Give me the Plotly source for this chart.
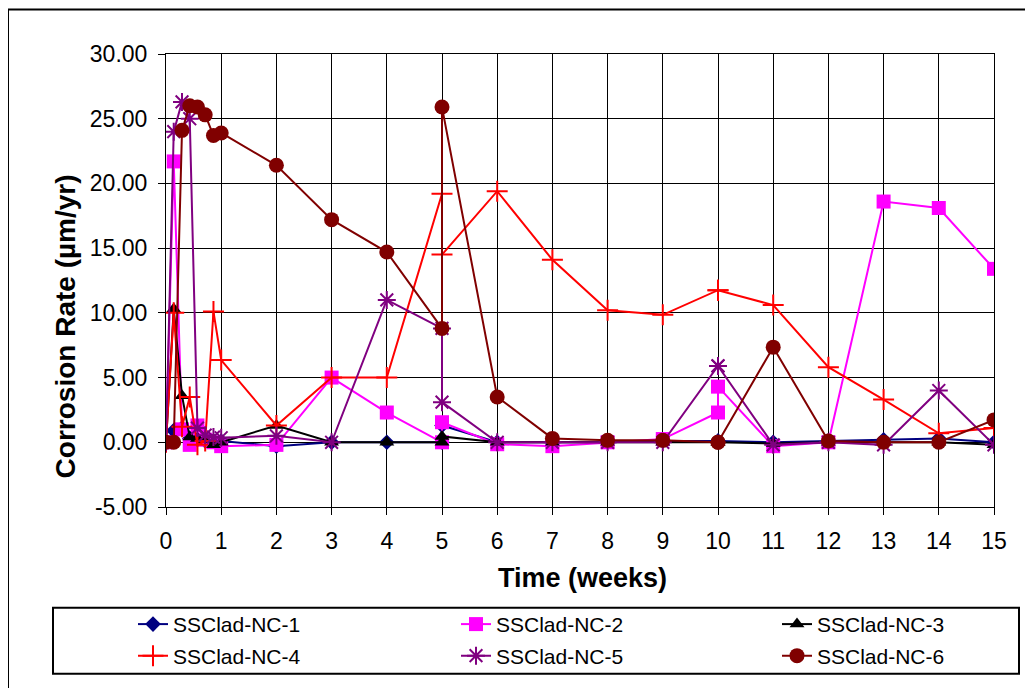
import plotly.graph_objects as go

# ---- data ----
time_weeks = [0, 0.14, 0.29, 0.43, 0.57, 0.71, 0.86, 1, 2, 3, 4, 5, 5, 6, 7, 8, 9, 10, 10, 11, 12, 13, 14, 15]

nc1 = [0, 0.9, 1.1, 0.3, 0.2, 0.1, 0.1, 0.1, -0.3, 0.0, 0.0, 0.0, 1.3, 0.0, 0.0, 0.0, 0.1, 0.1, 0.1, 0.0, 0.1, 0.2, 0.3, 0.0]
nc2 = [0, 21.7, 1.0, -0.2, 1.3, 0.2, 0.0, -0.3, -0.2, 5.0, 2.3, 0.0, 1.55, -0.15, -0.3, 0.0, 0.25, 2.3, 4.3, -0.3, 0.0, 18.6, 18.1, 13.4]
nc3 = [0, 10.3, 3.6, 0.4, 0.3, 0.2, -0.2, 0.0, 1.3, 0.0, 0.0, 0.0, 0.45, 0.0, 0.0, 0.0, 0.0, 0.0, 0.0, -0.1, 0.0, 0.0, 0.0, -0.2]
nc4 = [0, 10.0, 1.2, 3.5, -0.2, 0.1, 10.1, 6.35, 1.3, 5.0, 5.0, 19.2, 14.5, 19.4, 14.1, 10.2, 9.85, 11.75, 11.75, 10.6, 5.8, 3.3, 0.7, 1.1]
nc5 = [0, 24.0, 26.3, 25.0, 1.1, 0.55, 0.4, 0.35, 0.5, 0.0, 11.0, 8.8, 3.1, 0.0, 0.0, 0.0, 0.0, 5.9, 5.9, -0.2, 0.0, -0.2, 4.0, -0.2]
nc6 = [0, 0.0, 24.1, 26.0, 25.9, 25.3, 23.7, 23.9, 21.4, 17.2, 14.7, 8.8, 25.9, 3.5, 0.3, 0.15, 0.15, 0.0, 0.0, 7.35, 0.1, 0.0, 0.0, 1.73]

series_names = ["SSClad-NC-1", "SSClad-NC-2", "SSClad-NC-3", "SSClad-NC-4", "SSClad-NC-5", "SSClad-NC-6"]
series_values = [nc1, nc2, nc3, nc4, nc5, nc6]

y_ticks = [-5, 0, 5, 10, 15, 20, 25, 30]
y_tick_labels = ["-5.00", "0.00", "5.00", "10.00", "15.00", "20.00", "25.00", "30.00"]
x_ticks = list(range(0, 16))

# ---- styles ----
colors = ["#000080", "#FF00FF", "#000000", "#FF0000", "#800080", "#800000"]
symbols = ["diamond", "square", "triangle-up", "cross-thin-open", "asterisk-open", "circle"]
sizes = [12, 14, 13, 15, 15, 15]
FONT = "Arial, Liberation Sans, sans-serif"

# page offset of the figure div (default body margin)
OFF = 8
W, H = 1025, 680
# plot area in page pixels -> figure pixels
L, R, T, B = 166 - OFF, 994 - OFF, 54 - OFF, 513 - OFF
pw, ph = R - L, B - T


def px_x(p):
    """page x pixel -> paper coordinate"""
    return (p - OFF - L) / pw


def px_y(p):
    """page y pixel -> paper coordinate"""
    return (B - (p - OFF)) / ph


fig = go.Figure()

# legend entries: (page x of entry start, page y of row centre)
legend_pos = [(133, 632), (456, 632), (777, 632), (133, 664), (456, 664), (777, 664)]

for i, (name, vals) in enumerate(zip(series_names, series_values)):
    open_sym = symbols[i].endswith("open")
    marker = dict(symbol=symbols[i], size=sizes[i], color=colors[i])
    if open_sym:
        marker["line"] = dict(color=colors[i], width=2)
    else:
        marker["line"] = dict(width=0)
    lg = "legend" if i == 0 else f"legend{i+1}"
    fig.add_trace(go.Scatter(
        x=time_weeks, y=vals, name=name, mode="lines+markers",
        line=dict(color=colors[i], width=2),
        marker=marker, legend=lg,
    ))

layout_legends = {}
for i, (lx, ly) in enumerate(legend_pos):
    key = "legend" if i == 0 else f"legend{i+1}"
    layout_legends[key] = dict(
        x=px_x(lx), y=px_y(ly), xanchor="left", yanchor="middle",
        xref="paper", yref="paper",
        bgcolor="rgba(0,0,0,0)", borderwidth=0,
        font=dict(family=FONT, size=21, color="black"),
    )

fig.update_layout(
    width=W, height=H,
    margin=dict(l=L, r=W - R, t=T, b=H - B, pad=0),
    paper_bgcolor="white", plot_bgcolor="white",
    font=dict(family=FONT, color="black"),
    showlegend=True,
    **layout_legends,
)

fig.update_xaxes(
    range=[0, 15], tickvals=x_ticks, ticktext=[str(v) for v in x_ticks],
    showgrid=True, gridcolor="black", gridwidth=1,
    zeroline=False,
    showline=True, linecolor="black", linewidth=1, mirror=True,
    ticks="outside", ticklen=7, tickcolor="black", tickwidth=1,
    ticklabelstandoff=6,
    tickfont=dict(family=FONT, size=23, color="black"),
)
fig.update_yaxes(
    range=[-5, 30], tickvals=y_ticks, ticktext=y_tick_labels,
    showgrid=True, gridcolor="black", gridwidth=1,
    zeroline=True, zerolinecolor="black", zerolinewidth=1,
    showline=True, linecolor="black", linewidth=1, mirror=True,
    ticks="outside", ticklen=7, tickcolor="black", tickwidth=1,
    ticklabelstandoff=6,
    tickfont=dict(family=FONT, size=23, color="black"),
)

# axis titles
fig.add_annotation(
    text="<b>Corrosion Rate (µm/yr)</b>", textangle=-90,
    x=px_x(65), y=px_y(330), xref="paper", yref="paper",
    showarrow=False, font=dict(family=FONT, size=28, color="black"),
    xanchor="center", yanchor="middle",
)
fig.add_annotation(
    text="<b>Time (weeks)</b>",
    x=px_x(582), y=px_y(585), xref="paper", yref="paper",
    showarrow=False, font=dict(family=FONT, size=27, color="black"),
    xanchor="center", yanchor="middle",
)

# legend frame
fig.add_shape(type="rect", xref="paper", yref="paper",
              x0=px_x(53), x1=px_x(1019), y0=px_y(682), y1=px_y(615),
              line=dict(color="black", width=2), fillcolor="rgba(0,0,0,0)", layer="above")
# outer chart frame
fig.add_shape(type="rect", xref="paper", yref="paper",
              x0=px_x(8), x1=px_x(1050), y0=px_y(720), y1=px_y(9),
              line=dict(color="black", width=2), fillcolor="rgba(0,0,0,0)", layer="above")

fig.write_html("out.html", config={"displayModeBar": False})
